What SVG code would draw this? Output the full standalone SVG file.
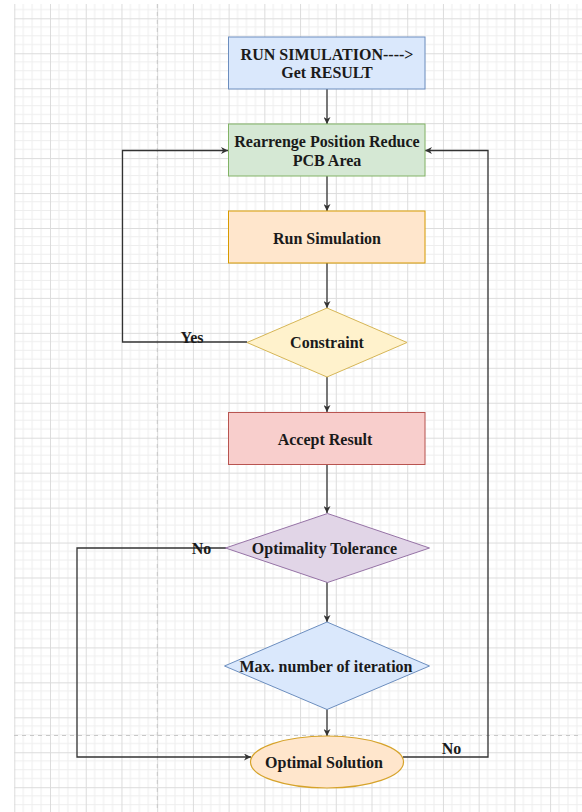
<svg xmlns="http://www.w3.org/2000/svg" width="582" height="812" viewBox="0 0 582 812">
<defs>
<pattern id="grid" patternUnits="userSpaceOnUse" x="14.3" y="-16.65" width="35.72" height="34.95">
<g stroke="#eeeeee" stroke-width="1">
<line x1="8.93" y1="0" x2="8.93" y2="34.95"/>
<line x1="17.86" y1="0" x2="17.86" y2="34.95"/>
<line x1="26.79" y1="0" x2="26.79" y2="34.95"/>
<line x1="0" y1="8.74" x2="35.72" y2="8.74"/>
<line x1="0" y1="17.48" x2="35.72" y2="17.48"/>
<line x1="0" y1="26.21" x2="35.72" y2="26.21"/>
</g>
<g stroke="#dcdcdc" stroke-width="1">
<line x1="0.5" y1="0" x2="0.5" y2="34.95"/>
<line x1="0" y1="0.5" x2="35.72" y2="0.5"/>
</g>
</pattern>
<marker id="arr" viewBox="0 0 10 10" refX="10" refY="5" markerWidth="7" markerHeight="7" markerUnits="userSpaceOnUse" orient="auto">
<path d="M0,0 L10,5 L0,10 L3,5 Z" fill="#333333"/>
</marker>
<style>
.lbl{font-family:"Liberation Serif","Times New Roman",serif;font-weight:bold;font-size:16px;fill:#1a1a1a;text-anchor:middle}
.edge{fill:none;stroke:#333333;stroke-width:1.3}
</style>
</defs>
<rect x="0" y="0" width="582" height="812" fill="#ffffff"/>
<rect x="14" y="4" width="568" height="808" fill="url(#grid)"/>
<line x1="157.3" y1="4" x2="157.3" y2="812" stroke="#c8c8c8" stroke-width="1" stroke-dasharray="4,4"/>
<line x1="14" y1="735.5" x2="582" y2="735.5" stroke="#c8c8c8" stroke-width="1" stroke-dasharray="4,4"/>

<g id="connectors">
<path class="edge" d="M327,89 L327,124" marker-end="url(#arr)"/>
<path class="edge" d="M327,176 L327,211" marker-end="url(#arr)"/>
<path class="edge" d="M327,263 L327,308" marker-end="url(#arr)"/>
<path class="edge" d="M327,377 L327,412" marker-end="url(#arr)"/>
<path class="edge" d="M327,464 L327,513" marker-end="url(#arr)"/>
<path class="edge" d="M327,582 L327,622" marker-end="url(#arr)"/>
<path class="edge" d="M327,709 L327,736" marker-end="url(#arr)"/>
<path class="edge" d="M247,342 L122.5,342 L122.5,150.5 L228,150.5" marker-end="url(#arr)"/>
<path class="edge" d="M226,548 L77,548 L77,757 L251,757" marker-end="url(#arr)"/>
<path class="edge" d="M403,757 L488,757 L488,150.5 L425,150.5" marker-end="url(#arr)"/>
<text class="lbl" x="192" y="342.5">Yes</text>
<text class="lbl" x="201.5" y="553.5">No</text>
<text class="lbl" x="451.5" y="753.5">No</text>
</g>

<g id="n1">
<rect x="228.5" y="37" width="196.5" height="52" fill="#dae8fc" stroke="#6c8ebf" stroke-width="1"/>
<text class="lbl" x="327" y="59.5">RUN SIMULATION----&gt;</text>
<text class="lbl" x="327" y="77.5">Get RESULT</text>
</g>
<g id="n2">
<rect x="228.5" y="124" width="196.5" height="52" fill="#d5e8d4" stroke="#82b366" stroke-width="1"/>
<text class="lbl" x="327" y="147">Rearrenge Position Reduce</text>
<text class="lbl" x="327" y="165.5">PCB Area</text>
</g>
<g id="n3">
<rect x="228.5" y="211" width="196.5" height="52" fill="#ffe6cc" stroke="#d79b00" stroke-width="1"/>
<text class="lbl" x="327" y="243.5">Run Simulation</text>
</g>
<g id="n4">
<polygon points="327,308 407,342.5 327,377 247,342.5" fill="#fff2cc" stroke="#d6b656" stroke-width="1"/>
<text class="lbl" x="327" y="348">Constraint</text>
</g>
<g id="n5">
<rect x="228.5" y="412.5" width="196.5" height="52" fill="#f8cecc" stroke="#b85450" stroke-width="1"/>
<text class="lbl" x="325" y="444.5">Accept Result</text>
</g>
<g id="n6">
<polygon points="327.5,513.5 429.5,548 327.5,582.5 225.5,548" fill="#e1d5e7" stroke="#9673a6" stroke-width="1"/>
<text class="lbl" x="324.5" y="553.5">Optimality Tolerance</text>
</g>
<g id="n7">
<polygon points="327,622 429.5,666 327,709.5 224.5,666" fill="#dae8fc" stroke="#6c8ebf" stroke-width="1"/>
<text class="lbl" x="326" y="671.5">Max. number of iteration</text>
</g>
<g id="n8">
<ellipse cx="327" cy="762" rx="76.5" ry="26" fill="#ffe6cc" stroke="#d6a32a" stroke-width="1.2"/>
<text class="lbl" x="324" y="767.5">Optimal Solution</text>
</g>
</svg>
